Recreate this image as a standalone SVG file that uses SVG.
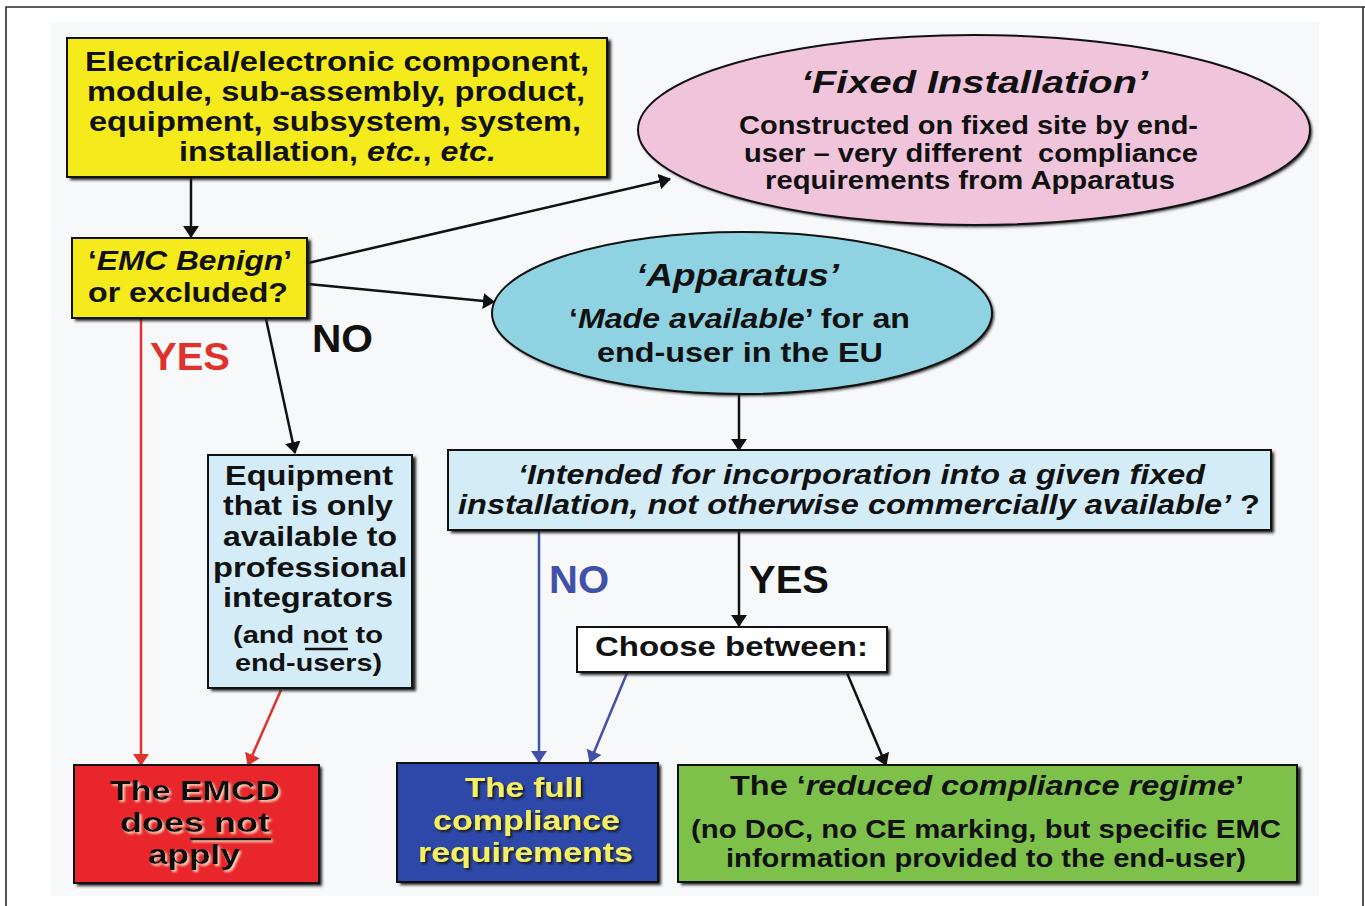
<svg xmlns="http://www.w3.org/2000/svg" width="1365" height="906" viewBox="0 0 1365 906">
  <defs>
    <style>
      .t { font-family: "Liberation Sans", Arial, sans-serif; font-weight: bold; fill: #111; }
      .i { font-style: italic; }
      .box { stroke: #111; stroke-width: 2; }
      .shadow { fill: #222; filter: url(#soft); }
      .conn { fill: none; stroke-width: 2.5; }
      .blk { stroke: #111; }
      .red { stroke: #e0322c; }
      .blu { stroke: #4150a8; }
      .lbl { font-family: "Liberation Sans", Arial, sans-serif; font-weight: bold; font-size: 38px; }
    </style>
    <filter id="soft" x="-10%" y="-10%" width="120%" height="120%">
      <feGaussianBlur stdDeviation="1.6"/>
    </filter>
    <filter id="glowDark" x="-5%" y="-10%" width="110%" height="120%">
      <feOffset dx="2" dy="2" in="SourceAlpha" result="o"/>
      <feGaussianBlur in="o" stdDeviation="1" result="b"/>
      <feFlood flood-color="#1a1a1a"/>
      <feComposite in2="b" operator="in" result="s"/>
      <feMerge><feMergeNode in="s"/><feMergeNode in="SourceGraphic"/></feMerge>
    </filter>
    <filter id="glowLight" x="-5%" y="-10%" width="110%" height="120%">
      <feOffset dx="2" dy="2" in="SourceAlpha" result="o"/>
      <feGaussianBlur in="o" stdDeviation="0.8" result="b"/>
      <feFlood flood-color="#f6d0b8"/>
      <feComposite in2="b" operator="in" result="s"/>
      <feMerge><feMergeNode in="s"/><feMergeNode in="SourceGraphic"/></feMerge>
    </filter>
    <marker id="ahBlk" markerWidth="12" markerHeight="16" refX="11" refY="8" orient="auto" markerUnits="userSpaceOnUse" viewBox="0 0 12 16">
      <path d="M0,0 L12,8 L0,16 Z" fill="#111"/>
    </marker>
    <marker id="ahRed" markerWidth="12" markerHeight="16" refX="11" refY="8" orient="auto" markerUnits="userSpaceOnUse" viewBox="0 0 12 16">
      <path d="M0,0 L12,8 L0,16 Z" fill="#e0322c"/>
    </marker>
    <marker id="ahBlu" markerWidth="12" markerHeight="16" refX="11" refY="8" orient="auto" markerUnits="userSpaceOnUse" viewBox="0 0 12 16">
      <path d="M0,0 L12,8 L0,16 Z" fill="#4150a8"/>
    </marker>
  </defs>

  <!-- page and frame -->
  <rect x="0" y="0" width="1365" height="906" fill="#ffffff"/>
  <rect x="50" y="22" width="1269" height="874" fill="#f7f8fa"/>
  <path d="M6,906 L6,7 L1365,7 M1363,7 L1363,906" fill="none" stroke="#2a2a2a" stroke-width="1.6"/>

  <!-- connectors -->
  <g id="connectors">
    <line class="conn blk" x1="191" y1="178" x2="191" y2="237" marker-end="url(#ahBlk)"/>
    <line class="conn blk" x1="308" y1="263" x2="670" y2="179" marker-end="url(#ahBlk)"/>
    <line class="conn blk" x1="308" y1="284" x2="494" y2="302" marker-end="url(#ahBlk)"/>
    <line class="conn blk" x1="266" y1="319" x2="295" y2="453" marker-end="url(#ahBlk)"/>
    <line class="conn red" x1="141" y1="319" x2="141" y2="765" marker-end="url(#ahRed)"/>
    <line class="conn red" x1="281" y1="690" x2="248" y2="765" marker-end="url(#ahRed)"/>
    <line class="conn blk" x1="739" y1="395" x2="739" y2="450" marker-end="url(#ahBlk)"/>
    <line class="conn blu" x1="539" y1="531" x2="539" y2="762" marker-end="url(#ahBlu)"/>
    <line class="conn blk" x1="739" y1="531" x2="739" y2="626" marker-end="url(#ahBlk)"/>
    <line class="conn blu" x1="627" y1="673" x2="590" y2="762" marker-end="url(#ahBlu)"/>
    <line class="conn blk" x1="847" y1="673" x2="886" y2="765" marker-end="url(#ahBlk)"/>
    <text class="lbl" x="312" y="352" fill="#111" textLength="61" lengthAdjust="spacingAndGlyphs">NO</text>
    <text class="lbl" x="150" y="370" fill="#e0322c" textLength="80" lengthAdjust="spacingAndGlyphs">YES</text>
    <text class="lbl" x="549" y="593" fill="#4150a8" textLength="60" lengthAdjust="spacingAndGlyphs">NO</text>
    <text class="lbl" x="749" y="593" fill="#111" textLength="80" lengthAdjust="spacingAndGlyphs">YES</text>
  </g>

  <!-- starting item -->
  <g id="node-item">
    <rect class="shadow" x="70" y="40" width="541" height="140"/>
    <rect class="box" x="67" y="38" width="540" height="139" fill="#f4ea1c"/>
    <text class="t" font-size="28" x="85" y="71" textLength="504" lengthAdjust="spacingAndGlyphs">Electrical/electronic component,</text>
    <text class="t" font-size="28" x="87" y="101" textLength="498" lengthAdjust="spacingAndGlyphs">module, sub-assembly, product,</text>
    <text class="t" font-size="28" x="89" y="131" textLength="492" lengthAdjust="spacingAndGlyphs">equipment, subsystem, system,</text>
    <text class="t" font-size="28" x="179" y="161" textLength="317" lengthAdjust="spacingAndGlyphs">installation, <tspan class="i">etc.</tspan>, <tspan class="i">etc.</tspan></text>
  </g>

  <!-- benign / excluded question -->
  <g id="node-benign">
    <rect class="shadow" x="75" y="240" width="236" height="81"/>
    <rect class="box" x="72" y="238" width="235" height="80" fill="#f4ea1c"/>
    <text class="t" font-size="28" x="88" y="270" textLength="204" lengthAdjust="spacingAndGlyphs">‘<tspan class="i">EMC Benign</tspan>’</text>
    <text class="t" font-size="28" x="88" y="302" textLength="200" lengthAdjust="spacingAndGlyphs">or excluded?</text>
  </g>

  <!-- fixed installation -->
  <g id="node-fixed">
    <ellipse class="shadow" cx="976" cy="132" rx="336" ry="95"/>
    <ellipse class="box" cx="974" cy="130" rx="336" ry="95" fill="#f0c5dc"/>
    <text class="t i" font-size="32" x="801" y="93" textLength="347" lengthAdjust="spacingAndGlyphs">‘Fixed Installation’</text>
    <text class="t" font-size="25" x="739" y="134" textLength="459" lengthAdjust="spacingAndGlyphs">Constructed on fixed site by end-</text>
    <text class="t" font-size="25" x="744" y="162" textLength="454" lengthAdjust="spacingAndGlyphs" xml:space="preserve">user – very different  compliance</text>
    <text class="t" font-size="25" x="765" y="189" textLength="410" lengthAdjust="spacingAndGlyphs">requirements from Apparatus</text>
  </g>

  <!-- apparatus -->
  <g id="node-apparatus">
    <ellipse class="shadow" cx="744" cy="315" rx="250" ry="81"/>
    <ellipse class="box" cx="742" cy="313" rx="250" ry="81" fill="#8fd3e3"/>
    <text class="t i" font-size="32" x="636" y="286" textLength="203" lengthAdjust="spacingAndGlyphs">‘Apparatus’</text>
    <text class="t" font-size="28" x="569" y="328" textLength="341" lengthAdjust="spacingAndGlyphs">‘<tspan class="i">Made available</tspan>’ for an</text>
    <text class="t" font-size="28" x="597" y="362" textLength="286" lengthAdjust="spacingAndGlyphs">end-user in the EU</text>
  </g>

  <!-- professional integrators -->
  <g id="node-professional">
    <rect class="shadow" x="211" y="457" width="205" height="234"/>
    <rect class="box" x="208" y="455" width="204" height="233" fill="#d4ecf8"/>
    <text class="t" font-size="28" x="225" y="485" textLength="168" lengthAdjust="spacingAndGlyphs">Equipment</text>
    <text class="t" font-size="28" x="223" y="515" textLength="170" lengthAdjust="spacingAndGlyphs">that is only</text>
    <text class="t" font-size="28" x="223" y="546" textLength="174" lengthAdjust="spacingAndGlyphs">available to</text>
    <text class="t" font-size="28" x="213" y="577" textLength="194" lengthAdjust="spacingAndGlyphs">professional</text>
    <text class="t" font-size="28" x="223" y="607" textLength="170" lengthAdjust="spacingAndGlyphs">integrators</text>
    <text class="t" font-size="24" x="233" y="643" textLength="150" lengthAdjust="spacingAndGlyphs">(and not to</text>
    <line x1="305" y1="649" x2="348" y2="649" stroke="#111" stroke-width="2.5"/>
    <text class="t" font-size="24" x="235" y="671" textLength="147" lengthAdjust="spacingAndGlyphs">end-users)</text>
  </g>

  <!-- intended for incorporation question -->
  <g id="node-intended">
    <rect class="shadow" x="451" y="452" width="823" height="81"/>
    <rect class="box" x="448" y="450" width="823" height="80" fill="#d4ecf8"/>
    <text class="t i" font-size="28" x="518" y="484" textLength="687" lengthAdjust="spacingAndGlyphs">‘Intended for incorporation into a given fixed</text>
    <text class="t" font-size="28" x="458" y="514" textLength="802" lengthAdjust="spacingAndGlyphs"><tspan class="i">installation, not otherwise commercially available’</tspan> ?</text>
  </g>

  <!-- choice -->
  <g id="node-choose">
    <rect class="shadow" x="580" y="629" width="310" height="46"/>
    <rect class="box" x="577" y="627" width="310" height="45" fill="#ffffff"/>
    <text class="t" font-size="28" x="595" y="656" textLength="273" lengthAdjust="spacingAndGlyphs">Choose between:</text>
  </g>

  <!-- EMCD does not apply -->
  <g id="node-not-apply">
    <rect class="shadow" x="77" y="767" width="245" height="119"/>
    <rect class="box" x="74" y="765" width="245" height="118" fill="#e8262b"/>
    <g filter="url(#glowLight)">
      <text class="t" font-size="28" x="110" y="800" textLength="170" lengthAdjust="spacingAndGlyphs">The EMCD</text>
      <text class="t" font-size="28" x="120" y="832" textLength="150" lengthAdjust="spacingAndGlyphs">does not</text>
      <line x1="190" y1="839" x2="271" y2="839" stroke="#111" stroke-width="2.5"/>
      <text class="t" font-size="28" x="148" y="864" textLength="92" lengthAdjust="spacingAndGlyphs">apply</text>
    </g>
  </g>

  <!-- full compliance -->
  <g id="node-full">
    <rect class="shadow" x="400" y="765" width="261" height="120"/>
    <rect class="box" x="397" y="763" width="261" height="119" fill="#2d48a8"/>
    <g filter="url(#glowDark)">
      <text class="t" font-size="28" x="465" y="797" textLength="118" lengthAdjust="spacingAndGlyphs" style="fill:#f6ef62">The full</text>
      <text class="t" font-size="28" x="433" y="830" textLength="187" lengthAdjust="spacingAndGlyphs" style="fill:#f6ef62">compliance</text>
      <text class="t" font-size="28" x="418" y="862" textLength="215" lengthAdjust="spacingAndGlyphs" style="fill:#f6ef62">requirements</text>
    </g>
  </g>

  <!-- reduced compliance regime -->
  <g id="node-reduced">
    <rect class="shadow" x="681" y="767" width="620" height="118"/>
    <rect class="box" x="678" y="765" width="619" height="117" fill="#7dc14a"/>
    <text class="t" font-size="27" x="730" y="795" textLength="514" lengthAdjust="spacingAndGlyphs">The ‘<tspan class="i">reduced compliance regime</tspan>’</text>
    <text class="t" font-size="26" x="691" y="838" textLength="590" lengthAdjust="spacingAndGlyphs">(no DoC, no CE marking, but specific EMC</text>
    <text class="t" font-size="26" x="726" y="867" textLength="520" lengthAdjust="spacingAndGlyphs">information provided to the end-user)</text>
  </g>
</svg>
